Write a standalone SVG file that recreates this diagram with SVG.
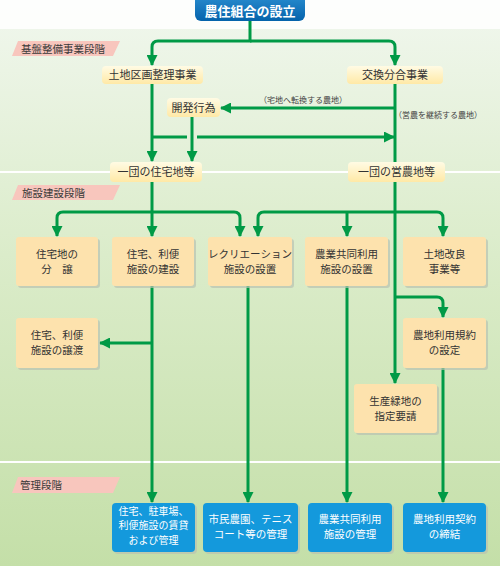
<svg xmlns="http://www.w3.org/2000/svg" width="500" height="566" viewBox="0 0 500 566">
<defs>
<linearGradient id="bg" x1="0" y1="0" x2="0" y2="1">
<stop offset="0" stop-color="#f1f7ee"/>
<stop offset="0.45" stop-color="#dbecca"/>
<stop offset="1" stop-color="#c4dfa8"/>
</linearGradient>
<linearGradient id="title" x1="0" y1="0" x2="0" y2="1">
<stop offset="0" stop-color="#2b8fd2"/>
<stop offset="1" stop-color="#0563ab"/>
</linearGradient>
<linearGradient id="yel" x1="0" y1="0" x2="0" y2="1">
<stop offset="0" stop-color="#fffbe4"/>
<stop offset="1" stop-color="#ffe9a6"/>
</linearGradient>
<marker id="ah" markerUnits="userSpaceOnUse" markerWidth="12" markerHeight="11" refX="10" refY="5.5" orient="auto" viewBox="0 0 12 11">
<path d="M0,0 L11,5.5 L0,11 z" fill="#009a46"/>
</marker>
<style>
.ln{fill:none;stroke:#009a46;stroke-width:3}
.ar{fill:none;stroke:#009a46;stroke-width:3;marker-end:url(#ah)}
.t{font-family:"Noto Sans CJK JP","Noto Sans",sans-serif;fill:#333;text-anchor:middle}
.bx{font-size:11px}
.bs{font-size:10.5px}
.b3{font-size:10px}
.stg{fill:#f8c6bd}
.stt{font-family:"Noto Sans CJK JP","Noto Sans",sans-serif;font-size:10.5px;fill:#3a3a3a}
.y{fill:url(#yel)}
.p{fill:#fde2ad}
.b{fill:#1499dc}
.sh{fill:#b9c2b0;opacity:0.7}
.wt{fill:#fff}
.an{font-size:8px;fill:#444}
</style>
</defs>
<rect x="0" y="0" width="500" height="566" fill="url(#bg)"/>
<rect x="0" y="0" width="500" height="29" fill="#ffffff" opacity="0.85"/>
<rect x="0" y="171" width="500" height="2" fill="#ffffff"/>
<rect x="0" y="461" width="500" height="2" fill="#ffffff"/>

<g id="stage1"><polygon class="stg" points="18,41 120,41 113,56 12,56"/><text class="stt" x="21" y="52.5">基盤整備事業段階</text></g>
<g id="stage2"><polygon class="stg" points="18,185 120,185 113,200 12,200"/><text class="stt" x="22" y="196.5">施設建設段階</text></g>
<g id="stage3"><polygon class="stg" points="18,477 120,477 113,493 12,493"/><text class="stt" x="20" y="488.5">管理段階</text></g>

<g id="connectors">
<path class="ar" d="M250,21 V41 H158 Q152,41 152,47 V65"/>
<path class="ar" d="M250,41 H389 Q395,41 395,47 V65"/>
<path class="ar" d="M152,83 V161"/>
<path class="ln" d="M152,137 H187"/>
<path class="ar" d="M197,137 H394"/>
<path class="ar" d="M395,108 H221"/>
<path class="ar" d="M192,117 V161"/>
<path class="ln" d="M395,83 V162"/>
<path class="ar" d="M152,182 V236"/>
<path class="ar" d="M152,212 H63 Q57,212 57,218 V236"/>
<path class="ar" d="M152,212 H234 Q240,212 240,218 V236"/>
<path class="ar" d="M395,182 V383"/>
<path class="ar" d="M395,212 H264 Q258,212 258,218 V236"/>
<path class="ar" d="M347,212 V236"/>
<path class="ar" d="M395,212 H437 Q443,212 443,218 V236"/>
<path class="ar" d="M395,297 H437 Q443,297 443,303 V317"/>
<path class="ar" d="M152,286 V502"/>
<path class="ar" d="M152,343 H100"/>
<path class="ar" d="M248,286 V502"/>
<path class="ar" d="M347,286 V502"/>
<path class="ar" d="M443,368 V502"/>
<text class="t an" x="303" y="103">（宅地へ転換する農地）</text>
<text class="t an" x="438" y="118">（営農を継続する農地）</text>
</g>

<g id="n-title"><rect x="195" y="-6" width="110" height="27" rx="6" fill="url(#title)"/><text class="t" x="250" y="16" style="font-size:13px;font-weight:bold;fill:#fff">農住組合の設立</text></g>

<g id="n-kukaku"><rect class="y" x="102" y="66" width="101" height="18" rx="4"/><text class="t bx" x="152.5" y="79">土地区画整理事業</text></g>
<g id="n-koukan"><rect class="y" x="347" y="66" width="96" height="18" rx="4"/><text class="t bx" x="395" y="79">交換分合事業</text></g>
<g id="n-kaihatsu"><rect class="y" x="167" y="98" width="53" height="19" rx="4"/><text class="t bx" x="193.5" y="111.5">開発行為</text></g>
<g id="n-jutaku"><rect class="y" x="110" y="162" width="92" height="20" rx="4"/><text class="t bx" x="156" y="176">一団の住宅地等</text></g>
<g id="n-einou"><rect class="y" x="348" y="162" width="97" height="20" rx="4"/><text class="t bx" x="396.5" y="176">一団の営農地等</text></g>

<g id="n-bunjo"><rect class="sh" x="18" y="239" width="82" height="49" rx="3"/><rect class="p" x="16" y="237" width="82" height="49" rx="3"/><text class="t bs" x="57" y="258">住宅地の</text><text class="t bs" x="57" y="273">分　譲</text></g>
<g id="n-kensetsu"><rect class="sh" x="114" y="239" width="82" height="49" rx="3"/><rect class="p" x="112" y="237" width="82" height="49" rx="3"/><text class="t bs" x="153" y="258">住宅、利便</text><text class="t bs" x="153" y="273">施設の建設</text></g>
<g id="n-recre"><rect class="sh" x="210" y="239" width="84" height="49" rx="3"/><rect class="p" x="208" y="237" width="84" height="49" rx="3"/><text class="t bs" x="250" y="258">レクリエーション</text><text class="t bs" x="250" y="273">施設の設置</text></g>
<g id="n-kyodo"><rect class="sh" x="307" y="239" width="83" height="49" rx="3"/><rect class="p" x="305" y="237" width="83" height="49" rx="3"/><text class="t bs" x="346.5" y="258">農業共同利用</text><text class="t bs" x="346.5" y="273">施設の設置</text></g>
<g id="n-kairyo"><rect class="sh" x="405" y="239" width="83" height="49" rx="3"/><rect class="p" x="403" y="237" width="83" height="49" rx="3"/><text class="t bs" x="444.5" y="258">土地改良</text><text class="t bs" x="444.5" y="273">事業等</text></g>

<g id="n-joto"><rect class="sh" x="18" y="320" width="82" height="50" rx="3"/><rect class="p" x="16" y="318" width="82" height="50" rx="3"/><text class="t bs" x="57" y="339">住宅、利便</text><text class="t bs" x="57" y="354">施設の譲渡</text></g>
<g id="n-kiyaku"><rect class="sh" x="405" y="320" width="83" height="50" rx="3"/><rect class="p" x="403" y="318" width="83" height="50" rx="3"/><text class="t bs" x="444.5" y="339">農地利用規約</text><text class="t bs" x="444.5" y="354">の設定</text></g>
<g id="n-ryokuchi"><rect class="sh" x="356" y="386" width="83" height="49" rx="3"/><rect class="p" x="354" y="384" width="83" height="49" rx="3"/><text class="t bs" x="395.5" y="405">生産緑地の</text><text class="t bs" x="395.5" y="420">指定要請</text></g>

<g id="n-kanri1"><rect class="sh" x="114" y="505" width="83" height="49" rx="4"/><rect class="b" x="112" y="503" width="83" height="49" rx="4"/><text class="t b3 wt" x="153.5" y="514.5">住宅、駐車場、</text><text class="t b3 wt" x="153.5" y="529">利便施設の賃貸</text><text class="t b3 wt" x="153.5" y="543.5">および管理</text></g>
<g id="n-kanri2"><rect class="sh" x="205" y="505" width="95" height="49" rx="4"/><rect class="b" x="203" y="503" width="95" height="49" rx="4"/><text class="t bs wt" x="250.5" y="523">市民農園、テニス</text><text class="t bs wt" x="250.5" y="538">コート等の管理</text></g>
<g id="n-kanri3"><rect class="sh" x="310" y="505" width="84" height="49" rx="4"/><rect class="b" x="308" y="503" width="84" height="49" rx="4"/><text class="t bs wt" x="350" y="523">農業共同利用</text><text class="t bs wt" x="350" y="538">施設の管理</text></g>
<g id="n-kanri4"><rect class="sh" x="405" y="505" width="83" height="49" rx="4"/><rect class="b" x="403" y="503" width="83" height="49" rx="4"/><text class="t bs wt" x="444.5" y="523">農地利用契約</text><text class="t bs wt" x="444.5" y="538">の締結</text></g>
</svg>
